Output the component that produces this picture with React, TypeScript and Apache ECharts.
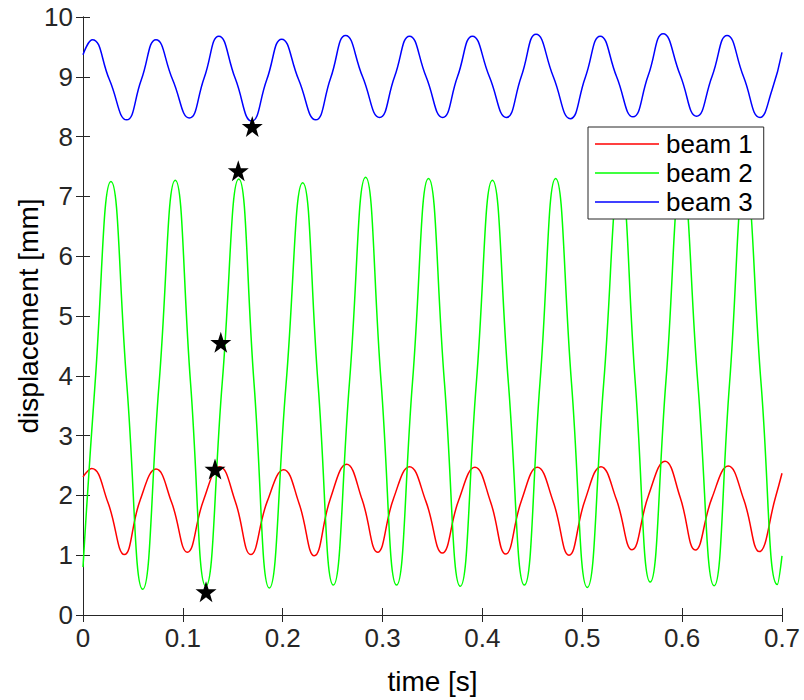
import React, { useEffect, useRef } from "react";
import * as echarts from "echarts";

const xTicks = [0, 0.1, 0.2, 0.3, 0.4, 0.5, 0.6, 0.7];
const yTicks = [0, 1, 2, 3, 4, 5, 6, 7, 8, 9, 10];
const seriesNames = ["beam 1", "beam 2", "beam 3"];
const seriesColors = ["#ff0000", "#00ff00", "#0000ff"];

const beam1: [number, number][] = [
  [0, 2.31], [0.0087, 2.45], [0.025, 1.88], [0.0414, 1.01], [0.0572, 1.92],
  [0.0731, 2.44], [0.0888, 1.88], [0.1045, 1.05], [0.1207, 1.92],
  [0.137, 2.48], [0.1525, 1.9], [0.168, 1.01], [0.1845, 1.9],
  [0.201, 2.43], [0.2163, 1.87], [0.2316, 0.99], [0.2478, 1.95],
  [0.264, 2.52], [0.2795, 1.93], [0.295, 1.05], [0.311, 1.95],
  [0.327, 2.48], [0.3434, 1.9], [0.3598, 1.035], [0.3762, 1.92],
  [0.3925, 2.47], [0.408, 1.9], [0.4233, 1.02], [0.4392, 1.92],
  [0.455, 2.47], [0.4708, 1.9], [0.4867, 1.0], [0.5027, 1.92],
  [0.5187, 2.48], [0.5342, 1.93], [0.5498, 1.09], [0.5663, 2.0],
  [0.5828, 2.57], [0.598, 1.97], [0.6132, 1.085], [0.6297, 1.95],
  [0.6462, 2.49], [0.6617, 1.93], [0.6773, 1.06], [0.6935, 1.97],
  [0.7, 2.37],
];

const beam2: [number, number][] = [
  [0, 0.8], [0.012, 3.85], [0.028, 7.25], [0.0439, 3.85], [0.0598, 0.43],
  [0.0761, 3.85], [0.0924, 7.27], [0.1077, 3.88], [0.123, 0.48],
  [0.1395, 3.9], [0.156, 7.29], [0.1713, 3.87], [0.1866, 0.45],
  [0.2033, 3.85], [0.22, 7.23], [0.2354, 3.86], [0.2507, 0.5],
  [0.2669, 3.9], [0.283, 7.32], [0.2985, 3.9], [0.314, 0.5],
  [0.33, 3.9], [0.346, 7.3], [0.3619, 3.9], [0.3778, 0.48],
  [0.3939, 3.88], [0.41, 7.27], [0.426, 3.88], [0.442, 0.5],
  [0.4577, 3.9], [0.4733, 7.3], [0.4892, 3.88], [0.505, 0.46],
  [0.5214, 3.87], [0.5378, 7.28], [0.553, 3.9], [0.568, 0.55],
  [0.5838, 3.92], [0.5995, 7.28], [0.6157, 3.88], [0.632, 0.49],
  [0.6475, 3.88], [0.663, 7.26], [0.679, 3.88], [0.6953, 0.51],
  [0.7, 0.99],
];

const beam3: [number, number][] = [
  [0, 9.37], [0.0093, 9.62], [0.0265, 8.95], [0.0437, 8.28], [0.0584, 8.95],
  [0.0731, 9.62], [0.0898, 8.95], [0.1065, 8.31], [0.1213, 8.98],
  [0.136, 9.68], [0.1525, 8.97], [0.169, 8.26], [0.184, 8.95],
  [0.199, 9.63], [0.216, 8.95], [0.233, 8.28], [0.248, 8.98],
  [0.263, 9.69], [0.28, 9.0], [0.297, 8.32], [0.312, 9.0],
  [0.327, 9.68], [0.3436, 9.0], [0.3602, 8.32], [0.375, 9.0],
  [0.39, 9.68], [0.407, 9.0], [0.424, 8.32], [0.439, 9.01],
  [0.4537, 9.71], [0.471, 9.0], [0.488, 8.3], [0.503, 8.99],
  [0.518, 9.68], [0.5344, 9.0], [0.5508, 8.33], [0.566, 9.02],
  [0.581, 9.72], [0.598, 9.03], [0.6145, 8.34], [0.63, 9.01],
  [0.645, 9.69], [0.6615, 9.0], [0.678, 8.32], [0.69, 8.78],
  [0.7, 9.41],
];

const stars: [number, number][] = [
  [0.1232, 0.39],
  [0.1322, 2.44],
  [0.138, 4.56],
  [0.1555, 7.43],
  [0.1695, 8.17],
];

const FONT = "'Liberation Sans', Arial, Helvetica, sans-serif";
const AXIS_COLOR = "#262626";
const STAR_PATH =
  "path://M50,0 L61.8,35.1 L98.1,35.1 L68.8,56.7 L79.4,91 L50,70 L20.6,91 L31.2,56.7 L1.9,35.1 L38.2,35.1 Z";

export default function App() {
  const ref = useRef<HTMLDivElement>(null);
  useEffect(() => {
    const chart = echarts.init(ref.current!, null, { renderer: "svg" });
    const fmt = (v: number) => String(Math.round(v * 10) / 10);
    const baseAxis = {
      axisLine: { show: true, lineStyle: { color: AXIS_COLOR, width: 1 } },
      axisTick: { show: true, inside: true, length: 7, lineStyle: { color: AXIS_COLOR } },
      splitLine: { show: false },
    };
    const seriesData = [beam1, beam2, beam3];
    chart.setOption({
      animation: false,
      backgroundColor: "#ffffff",
      grid: { left: 83, right: 22, top: 17, bottom: 84, containLabel: false },
      legend: {
        data: seriesNames.map((n) => ({ name: n, icon: "rect" })),
        orient: "vertical",
        left: 588,
        top: 127,
        itemWidth: 64,
        itemHeight: 1.6,
        itemGap: 3,
        padding: [4, 11, 4, 7],
        borderColor: AXIS_COLOR,
        borderWidth: 1,
        borderRadius: 0,
        backgroundColor: "#ffffff",
        textStyle: { fontSize: 26, color: "#000", fontFamily: FONT, lineHeight: 26, padding: [0, 0, 0, 2] },
      },
      xAxis: [
        {
          ...baseAxis,
          type: "value",
          min: 0,
          max: 0.7,
          interval: 0.1,
          position: "bottom",
          name: "time [s]",
          nameLocation: "middle",
          nameGap: 52,
          nameMoveOverlap: false,
          nameTextStyle: { fontSize: 28, color: "#000", fontFamily: FONT },
          axisLabel: { fontSize: 26, color: AXIS_COLOR, fontFamily: FONT, margin: 10, formatter: fmt },
        },
        {
          ...baseAxis,
          type: "value",
          min: 0,
          max: 0.7,
          interval: 0.1,
          position: "top",
          axisLabel: { show: false },
        },
      ],
      yAxis: [
        {
          ...baseAxis,
          type: "value",
          min: 0,
          max: 10,
          interval: 1,
          position: "left",
          name: "displacement [mm]",
          nameLocation: "middle",
          nameGap: 41,
          nameMoveOverlap: false,
          nameTextStyle: { fontSize: 28, color: "#000", fontFamily: FONT },
          axisLabel: { fontSize: 26, color: AXIS_COLOR, fontFamily: FONT, margin: 10 },
        },
        {
          ...baseAxis,
          type: "value",
          min: 0,
          max: 10,
          interval: 1,
          position: "right",
          axisLabel: { show: false },
        },
      ],
      series: [
        ...seriesNames.map((n, i) => ({
          name: n,
          type: "line",
          data: seriesData[i],
          symbol: "none",
          smooth: i === 0 ? 0.45 : 0.5,
          lineStyle: { color: seriesColors[i], width: 1.5 },
          itemStyle: { color: seriesColors[i] },
        })),
        {
          name: "markers",
          type: "scatter",
          data: stars,
          symbol: STAR_PATH,
          symbolSize: 21,
          itemStyle: { color: "#000000", opacity: 1 },
          z: 5,
        },
      ],
    });
    return () => chart.dispose();
  }, []);
  return (
    <div
      ref={ref}
      style={{ position: "fixed", left: 0, top: 0, width: 804, height: 700 }}
    />
  );
}
